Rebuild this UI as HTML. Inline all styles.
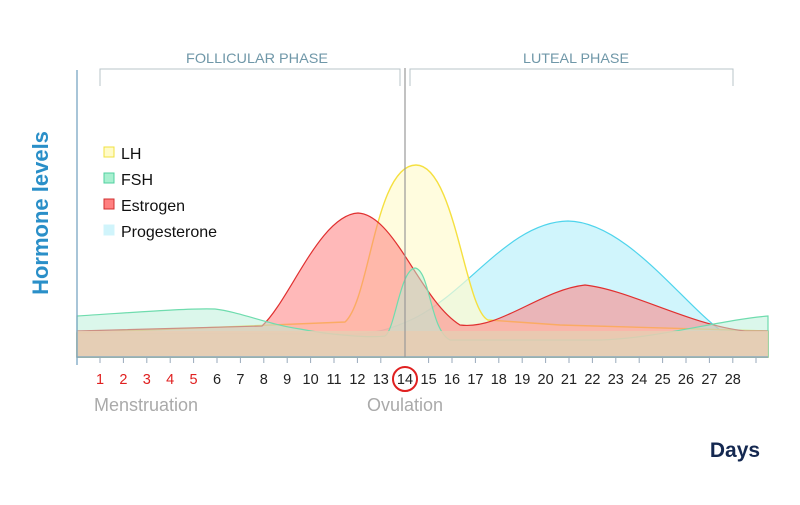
<!DOCTYPE html>
<html><head><meta charset="utf-8"><style>
html,body{margin:0;padding:0;background:#fff;}
svg text{font-family:"Liberation Sans",sans-serif;}
</style></head><body>
<svg width="800" height="500" viewBox="0 0 800 500" xmlns="http://www.w3.org/2000/svg">
<g stroke="#b8c4ca" stroke-width="1" fill="none">
<path d="M100 86 V69 H400 V86"/>
<path d="M410 86 V69 H733 V86"/>
</g>
<text x="257" y="63" font-size="14" fill="#6f97a8" text-anchor="middle" textLength="142" lengthAdjust="spacingAndGlyphs">FOLLICULAR PHASE</text>
<text x="576" y="63" font-size="14" fill="#6f97a8" text-anchor="middle" textLength="106" lengthAdjust="spacingAndGlyphs">LUTEAL PHASE</text>
<path d="M77 333 L330 334 C370 336 390 330 415 318 C470 290 510 222 568 221 C625 222 680 300 720 330 L768 331 L768 357 L77 357 Z" fill="#c4f2fb" fill-opacity="0.8" stroke="#4fd4ec" stroke-width="1.2"/>
<path d="M77 333 L345 322 C370 300 375 165 416 165 C455 165 465 310 488 320 L560 325 C650 328 720 330 768 331 L768 357 L77 357 Z" fill="#fffbd0" fill-opacity="0.7" stroke="#f5e040" stroke-width="1.4"/>
<path d="M77 331 L262 326 C290 300 320 215 358 213 C395 215 420 300 460 325 C500 330 540 290 585 285 C630 290 690 325 745 331 L768 331 L768 357 L77 357 Z" fill="#ff8080" fill-opacity="0.55" stroke="#e03030" stroke-width="1.2"/>
<path d="M77 316 C140 312 190 308 215 309 C240 312 270 325 300 329 C330 335 370 338 385 336 C395 330 400 270 415 268 C430 270 430 330 450 340 L600 340 C660 338 720 320 768 316 L768 357 L77 357 Z" fill="#b8f0d8" fill-opacity="0.5" stroke="#6fdcae" stroke-width="1.2"/>
<path d="M77 331 L768 331 L768 357 L77 357 Z" fill="#e7cdb3" fill-opacity="0.85"/>
<line x1="77" y1="70" x2="77" y2="365" stroke="#7aa6c2" stroke-width="1.3"/>
<line x1="77" y1="357" x2="768" y2="357" stroke="#7aa6c2" stroke-width="1.3"/>
<line x1="405" y1="68" x2="405" y2="357" stroke="#999" stroke-width="1.2"/>
<g stroke="#9ab" stroke-width="1">
<line x1="100" y1="357" x2="100" y2="363"/><line x1="123.4" y1="357" x2="123.4" y2="363"/><line x1="146.8" y1="357" x2="146.8" y2="363"/><line x1="170.2" y1="357" x2="170.2" y2="363"/><line x1="193.6" y1="357" x2="193.6" y2="363"/><line x1="217" y1="357" x2="217" y2="363"/><line x1="240.4" y1="357" x2="240.4" y2="363"/><line x1="263.8" y1="357" x2="263.8" y2="363"/><line x1="287.2" y1="357" x2="287.2" y2="363"/><line x1="310.6" y1="357" x2="310.6" y2="363"/><line x1="334" y1="357" x2="334" y2="363"/><line x1="357.4" y1="357" x2="357.4" y2="363"/><line x1="380.8" y1="357" x2="380.8" y2="363"/><line x1="428.6" y1="357" x2="428.6" y2="363"/><line x1="452" y1="357" x2="452" y2="363"/><line x1="475.4" y1="357" x2="475.4" y2="363"/><line x1="498.8" y1="357" x2="498.8" y2="363"/><line x1="522.2" y1="357" x2="522.2" y2="363"/><line x1="545.6" y1="357" x2="545.6" y2="363"/><line x1="569" y1="357" x2="569" y2="363"/><line x1="592.4" y1="357" x2="592.4" y2="363"/><line x1="615.8" y1="357" x2="615.8" y2="363"/><line x1="639.2" y1="357" x2="639.2" y2="363"/><line x1="662.6" y1="357" x2="662.6" y2="363"/><line x1="686" y1="357" x2="686" y2="363"/><line x1="709.4" y1="357" x2="709.4" y2="363"/><line x1="732.8" y1="357" x2="732.8" y2="363"/><line x1="756" y1="357" x2="756" y2="363"/>
</g>
<g font-size="14.5" text-anchor="middle" fill="#222">
<text x="100" y="384" fill="#e02020">1</text><text x="123.4" y="384" fill="#e02020">2</text><text x="146.8" y="384" fill="#e02020">3</text><text x="170.2" y="384" fill="#e02020">4</text><text x="193.6" y="384" fill="#e02020">5</text>
<text x="217" y="384">6</text><text x="240.4" y="384">7</text><text x="263.8" y="384">8</text><text x="287.2" y="384">9</text><text x="310.6" y="384">10</text><text x="334" y="384">11</text><text x="357.4" y="384">12</text><text x="380.8" y="384">13</text><text x="405" y="384">14</text><text x="428.6" y="384">15</text><text x="452" y="384">16</text><text x="475.4" y="384">17</text><text x="498.8" y="384">18</text><text x="522.2" y="384">19</text><text x="545.6" y="384">20</text><text x="569" y="384">21</text><text x="592.4" y="384">22</text><text x="615.8" y="384">23</text><text x="639.2" y="384">24</text><text x="662.6" y="384">25</text><text x="686" y="384">26</text><text x="709.4" y="384">27</text><text x="732.8" y="384">28</text>
</g>
<circle cx="405" cy="379" r="12" fill="none" stroke="#e02020" stroke-width="2"/>
<text x="146" y="411" font-size="18" fill="#aaa" text-anchor="middle">Menstruation</text>
<text x="405" y="411" font-size="18" fill="#aaa" text-anchor="middle">Ovulation</text>
<text x="735" y="457" font-size="21" font-weight="bold" fill="#142850" text-anchor="middle">Days</text>
<text transform="translate(48,213) rotate(-90)" font-size="22" font-weight="bold" fill="#2a8fc8" text-anchor="middle">Hormone levels</text>
<rect x="104" y="147" width="10" height="10" fill="#fffbc8" stroke="#f0e040"/>
<text x="121" y="159" font-size="16" fill="#111">LH</text>
<rect x="104" y="173" width="10" height="10" fill="#a8f0d0" stroke="#50d0a0"/>
<text x="121" y="185" font-size="16" fill="#111">FSH</text>
<rect x="104" y="199" width="10" height="10" fill="#ff8080" stroke="#d03030"/>
<text x="121" y="211" font-size="16" fill="#111">Estrogen</text>
<rect x="104" y="225" width="10" height="10" fill="#d0f4fb" stroke="#d0f4fb"/>
<text x="121" y="237" font-size="16" fill="#111">Progesterone</text>
</svg>
</body></html>
